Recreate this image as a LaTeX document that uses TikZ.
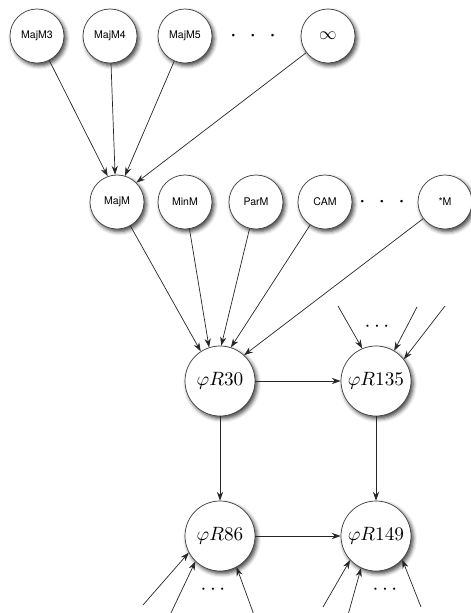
\documentclass[tikz,border=0pt]{standalone}
\usepackage{fontspec}
\setsansfont{TeX Gyre Heros}
\usetikzlibrary{arrows.meta,shadows.blur}
\begin{document}
\begin{tikzpicture}
\tikzstyle{mode} = [circle, text centered, minimum size=1.08cm, inner sep=0pt, draw=black!75, fill=white, blur shadow={shadow xshift=1.2pt, shadow yshift=-1.5pt, shadow blur radius=2.2pt, shadow opacity=75}, font=\sffamily\fontsize{6}{7}\selectfont]
\tikzstyle{rule} = [circle, text centered, minimum size=1.4cm, inner sep=0pt, draw=black!75, fill=white, blur shadow={shadow xshift=1.2pt, shadow yshift=-1.5pt, shadow blur radius=2.2pt, shadow opacity=75}, font=\fontsize{10.5}{12}\selectfont]
\tikzstyle{more} = [inner sep=0pt]
\useasboundingbox (0,0) rectangle (9.4,-12.26);
\node[mode] at (0.74,-0.72) (m3){MajM3};
\node[mode] at (2.2,-0.72) (m4){MajM4};
\node[mode] at (3.7,-0.72) (m5){MajM5};
\node[more] at (5.06,-0.72) (dots_m){\fontsize{5}{6}\selectfont\textbullet\hspace{6pt}\textbullet\hspace{6pt}\textbullet};
\node[mode] at (6.56,-0.72) (minf){\normalsize$\infty$};
\node[mode] at (2.34,-4.04) (majm){MajM};
\node[mode] at (3.7,-4.04) (minm){MinM};
\node[mode] at (5.12,-4.04) (parm){ParM};
\node[mode] at (6.5,-4.04) (cam){CAM};
\node[more] at (7.64,-4.04) (dots_k){\fontsize{5}{6}\selectfont\textbullet\hspace{6pt}\textbullet\hspace{6pt}\textbullet};
\node[mode] at (8.9,-4.04) (anym){*M};
\node[rule] at (4.4,-7.62) (r30){$\varphi R30$};
\node[rule] at (7.52,-7.62) (r135){$\varphi R135$};
\node[rule] at (4.4,-10.72) (r86){$\varphi R86$};
\node[rule] at (7.52,-10.72) (r149){$\varphi R149$};
\node[more] at (7.54,-6.54) (dots_a){\large$\cdots$};
\node[more] at (4.26,-11.8) (dots_b){\large$\cdots$};
\node[more] at (7.7,-11.8) (dots_c){\large$\cdots$};
\coordinate (a1) at (6.76,-6.12);
\coordinate (a2) at (8.34,-6.14);
\coordinate (a3) at (8.9,-6.12);
\coordinate (b1) at (2.86,-12.1);
\coordinate (b2) at (3.4,-12.3);
\coordinate (b3) at (5.08,-12.3);
\coordinate (c1) at (6.46,-12.14);
\coordinate (c2) at (6.96,-12.3);
\coordinate (c3) at (8.42,-12.14);
\begin{scope}[black!85, line width=0.4pt, -{Stealth[length=5pt,width=3.5pt]}]
\draw (m3) -- (majm.110);
\draw (m4) -- (majm.94);
\draw (m5) -- (majm.73);
\draw (minf) -- (majm.45);
\draw (majm) -- (r30.123);
\draw (minm) -- (r30.108);
\draw (parm) -- (r30.88);
\draw (cam) -- (r30.72);
\draw (anym) -- (r30.47);
\draw (r30) -- (r135);
\draw (r30) -- (r86);
\draw (r135) -- (r149);
\draw (r86) -- (r149);
\draw (a1) -- (r135.113);
\draw (a2) -- (r135.59);
\draw (a3) -- (r135.38);
\draw (b1) -- (r86.208);
\draw (b2) -- (r86.226);
\draw (b3) -- (r86.298);
\draw (c1) -- (r149.223);
\draw (c2) -- (r149.245);
\draw (c3) -- (r149.318);
\end{scope}
\end{tikzpicture}
\end{document}
